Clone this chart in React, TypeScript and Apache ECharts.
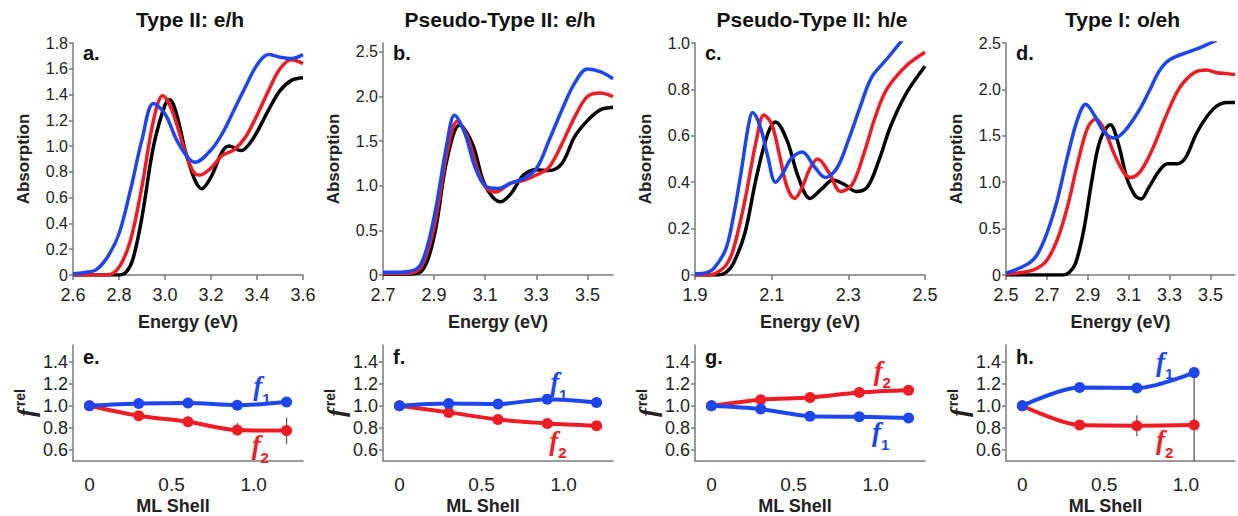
import React, { useEffect, useRef } from 'react';
import * as echarts from 'echarts';

const BLUE = '#1e46ee';
const RED = '#ee1c24';
const BLACK = '#000000';
const AXIS = '#7a7a7a';
const FONT = '"Liberation Sans", Arial, sans-serif';
const SERIF = '"Liberation Serif", "Times New Roman", serif';

const panelTitles = ['Type II: e/h', 'Pseudo-Type II: e/h', 'Pseudo-Type II: h/e', 'Type I: o/eh'];
const topLetters = ['a.', 'b.', 'c.', 'd.'];
const bottomLetters = ['e.', 'f.', 'g.', 'h.'];

// ---- Absorption spectra (energy eV, absorption) ----
const aBlack = [[2.6,0],[2.8,0],[2.83,0.02],[2.86,0.12],[2.9,0.45],[2.95,1.0],[3.0,1.32],[3.02,1.36],[3.05,1.25],[3.1,0.89],[3.16,0.67],[3.2,0.76],[3.25,0.96],[3.28,1.0],[3.33,0.965],[3.38,1.05],[3.45,1.28],[3.5,1.43],[3.55,1.51],[3.6,1.53]];
const aRed = [[2.6,0],[2.75,0],[2.8,0.06],[2.85,0.27],[2.9,0.69],[2.95,1.2],[2.99,1.39],[3.03,1.28],[3.08,1.0],[3.12,0.81],[3.15,0.775],[3.2,0.83],[3.25,0.93],[3.3,0.97],[3.35,1.07],[3.4,1.24],[3.45,1.43],[3.5,1.6],[3.55,1.67],[3.6,1.64]];
const aBlue = [[2.6,0.01],[2.65,0.02],[2.7,0.04],[2.75,0.14],[2.8,0.32],[2.85,0.66],[2.9,1.05],[2.95,1.33],[3.0,1.25],[3.05,1.05],[3.1,0.91],[3.13,0.875],[3.2,0.97],[3.25,1.1],[3.3,1.28],[3.35,1.46],[3.4,1.63],[3.45,1.71],[3.5,1.69],[3.55,1.68],[3.6,1.71]];

const bBlack = [[2.7,0.01],[2.8,0.01],[2.85,0.04],[2.9,0.43],[2.95,1.29],[3.0,1.68],[3.05,1.47],[3.1,1.0],[3.16,0.82],[3.2,0.91],[3.25,1.12],[3.3,1.18],[3.35,1.17],[3.4,1.25],[3.45,1.55],[3.5,1.73],[3.55,1.85],[3.6,1.88]];
const bRed = [[2.7,0.02],[2.8,0.02],[2.85,0.09],[2.9,0.54],[2.95,1.36],[2.99,1.72],[3.03,1.55],[3.07,1.18],[3.1,0.99],[3.14,0.93],[3.2,1.03],[3.25,1.06],[3.3,1.12],[3.35,1.21],[3.4,1.47],[3.45,1.77],[3.5,2.0],[3.55,2.04],[3.6,2.0]];
const bBlue = [[2.7,0.03],[2.8,0.04],[2.85,0.13],[2.9,0.65],[2.95,1.47],[2.98,1.79],[3.02,1.59],[3.06,1.21],[3.1,1.0],[3.15,0.97],[3.2,1.03],[3.25,1.08],[3.3,1.19],[3.35,1.51],[3.4,1.85],[3.45,2.15],[3.5,2.31],[3.55,2.28],[3.6,2.2]];

const cBlack = [[1.9,0],[1.96,0],[1.98,0.01],[2.0,0.05],[2.03,0.18],[2.06,0.42],[2.09,0.61],[2.11,0.66],[2.14,0.58],[2.17,0.42],[2.2,0.33],[2.23,0.37],[2.26,0.41],[2.29,0.39],[2.32,0.36],[2.35,0.38],[2.38,0.495],[2.41,0.64],[2.45,0.78],[2.5,0.9]];
const cRed = [[1.9,0],[1.93,0],[1.95,0.005],[1.98,0.04],[2.0,0.11],[2.03,0.32],[2.06,0.58],[2.08,0.69],[2.1,0.65],[2.12,0.52],[2.14,0.38],[2.16,0.33],[2.18,0.38],[2.2,0.46],[2.22,0.5],[2.25,0.44],[2.28,0.36],[2.31,0.39],[2.34,0.52],[2.37,0.68],[2.4,0.8],[2.45,0.9],[2.5,0.96]];
const cBlue = [[1.9,0.005],[1.93,0.01],[1.95,0.03],[1.98,0.11],[2.0,0.25],[2.02,0.44],[2.04,0.65],[2.05,0.7],[2.07,0.64],[2.09,0.51],[2.11,0.4],[2.13,0.44],[2.15,0.5],[2.18,0.53],[2.21,0.47],[2.24,0.42],[2.27,0.46],[2.3,0.58],[2.33,0.72],[2.36,0.85],[2.4,0.93],[2.45,1.03],[2.48,1.08]];

const dBlack = [[2.5,0],[2.78,0],[2.81,0.03],[2.84,0.125],[2.88,0.48],[2.92,1.02],[2.96,1.45],[3.01,1.62],[3.05,1.41],[3.09,1.05],[3.13,0.86],[3.16,0.82],[3.2,0.95],[3.25,1.125],[3.29,1.2],[3.34,1.2],[3.38,1.27],[3.43,1.52],[3.48,1.7],[3.53,1.82],[3.58,1.86],[3.62,1.86]];
const dRed = [[2.5,0.01],[2.6,0.035],[2.65,0.07],[2.7,0.16],[2.75,0.375],[2.8,0.73],[2.85,1.2],[2.9,1.59],[2.94,1.68],[2.98,1.57],[3.03,1.3],[3.08,1.09],[3.11,1.05],[3.16,1.125],[3.22,1.375],[3.28,1.7],[3.35,2.02],[3.42,2.18],[3.48,2.21],[3.53,2.18],[3.58,2.17],[3.62,2.16]];
const dBlue = [[2.5,0.02],[2.6,0.11],[2.65,0.21],[2.7,0.45],[2.75,0.8],[2.8,1.27],[2.85,1.68],[2.89,1.84],[2.93,1.73],[2.98,1.54],[3.03,1.475],[3.08,1.55],[3.15,1.77],[3.2,1.98],[3.25,2.2],[3.3,2.32],[3.4,2.41],[3.45,2.45],[3.5,2.5],[3.53,2.53]];

// ---- Relative oscillator strengths vs ML shell ----
const shellX = [0, 0.3, 0.6, 0.9, 1.2];
const shellXh = [0, 0.35, 0.7, 1.05];
const eF1 = [1.0, 1.02, 1.025, 1.005, 1.035];
const eF2 = [1.0, 0.91, 0.855, 0.78, 0.775];
const fF1 = [1.0, 1.02, 1.015, 1.06, 1.03];
const fF2 = [1.0, 0.94, 0.875, 0.84, 0.82];
const gF1 = [1.0, 0.97, 0.905, 0.9, 0.89];
const gF2 = [1.0, 1.055, 1.075, 1.12, 1.14];
const hF1 = [1.0, 1.165, 1.16, 1.3];
const hF2 = [1.0, 0.825, 0.82, 0.825];
// error bars [x, low, high]
const eErr = [[0.9, 0.73, 0.845], [1.2, 0.655, 0.895]];
const hErr = [[0.7, 0.725, 0.915], [1.05, 0.5, 1.3]];
// label anchor positions [x, y]
const labelPos = [
  { f1: [1.05, 1.15], f2: [1.04, 0.615] },
  { f1: [0.97, 1.185], f2: [0.965, 0.655] },
  { f1: [1.03, 0.735], f2: [1.04, 1.29] },
  { f1: [0.87, 1.373], f2: [0.87, 0.66] },
];

// axis ranges and tick values
const topXRange = [[2.6, 3.6], [2.7, 3.6], [1.9, 2.5], [2.5, 3.62]];
const topXTicks = [[2.6, 2.8, 3.0, 3.2, 3.4, 3.6], [2.7, 2.9, 3.1, 3.3, 3.5], [1.9, 2.1, 2.3, 2.5], [2.5, 2.7, 2.9, 3.1, 3.3, 3.5]];
const topYRange = [[0, 1.8], [0, 2.6], [0, 1.0], [0, 2.5]];
const topYTicks = [[0, 0.2, 0.4, 0.6, 0.8, 1.0, 1.2, 1.4, 1.6, 1.8], [0, 0.5, 1.0, 1.5, 2.0, 2.5], [0, 0.2, 0.4, 0.6, 0.8, 1.0], [0, 0.5, 1.0, 1.5, 2.0, 2.5]];
const botXRange = [-0.1, 1.3];
const botXTicks = [0, 0.5, 1.0];
const botYRange = [0.5, 1.55];
const botYTicks = [0.6, 0.8, 1.0, 1.2, 1.4];

// layout (pixels)
const gridLefts = [73, 383, 695, 1006];
const gridWidths = [230, 230, 230, 229];
const TOP_Y = 43, TOP_H = 232, BOT_Y = 345, BOT_H = 116;

const fmt = (v: number) => (Math.abs(v) < 1e-9 ? '0' : v.toFixed(1));

export default function App() {
  const ref = useRef<HTMLDivElement>(null);
  useEffect(() => {
    if (!ref.current) return;
    const chart = echarts.init(ref.current, undefined, { renderer: 'svg' });

    const grid: any[] = [];
    const xAxis: any[] = [];
    const yAxis: any[] = [];
    const series: any[] = [];
    const graphic: any[] = [];

    const axisLine = { show: true, onZero: false, lineStyle: { color: AXIS, width: 1.5 } };

    const topSets = [
      [aBlack, aRed, aBlue],
      [bBlack, bRed, bBlue],
      [cBlack, cRed, cBlue],
      [dBlack, dRed, dBlue],
    ];
    const botSets = [
      [eF1, eF2, shellX, eErr],
      [fF1, fF2, shellX, []],
      [gF1, gF2, shellX, []],
      [hF1, hF2, shellXh, hErr],
    ];

    for (let i = 0; i < 4; i++) {
      // ---------- top panel ----------
      grid.push({ left: gridLefts[i], top: TOP_Y, width: gridWidths[i], height: TOP_H, containLabel: false, outerBoundsMode: 'none' });
      const gt = grid.length - 1;
      xAxis.push({
        type: 'value', gridIndex: gt, min: topXRange[i][0], max: topXRange[i][1],
        axisLine, splitLine: { show: false },
        axisTick: { show: true, length: 5, customValues: topXTicks[i], lineStyle: { color: AXIS, width: 1.5 } },
        axisLabel: { customValues: topXTicks[i], formatter: fmt, fontSize: 18, color: '#222', fontFamily: FONT, margin: 11, hideOverlap: false, showMinLabel: true, showMaxLabel: true },
        name: 'Energy (eV)', nameLocation: 'middle', nameGap: 38,
        nameTextStyle: { fontSize: 18, fontWeight: 'bold', color: '#222', fontFamily: FONT },
      });
      yAxis.push({
        type: 'value', gridIndex: gt, min: topYRange[i][0], max: topYRange[i][1],
        axisLine, splitLine: { show: false },
        axisTick: { show: true, length: 4, customValues: topYTicks[i], lineStyle: { color: AXIS, width: 1.5 } },
        axisLabel: { customValues: topYTicks[i], formatter: fmt, fontSize: 16, color: '#222', fontFamily: FONT, margin: 5, showMinLabel: true, showMaxLabel: true },
        name: 'Absorption', nameLocation: 'middle', nameGap: 41,
        nameTextStyle: { fontSize: 17, fontWeight: 'bold', color: '#222', fontFamily: FONT },
      });
      const colors = [BLACK, RED, BLUE];
      topSets[i].forEach((d, k) => {
        series.push({
          type: 'line', xAxisIndex: gt, yAxisIndex: gt, data: d, showSymbol: false, smooth: 0.35,
          clip: true, lineStyle: { color: colors[k], width: 3.5 }, itemStyle: { color: colors[k] }, z: 2 + k,
        });
      });

      // ---------- bottom panel ----------
      grid.push({ left: gridLefts[i], top: BOT_Y, width: gridWidths[i], height: BOT_H, containLabel: false, outerBoundsMode: 'none' });
      const gb = grid.length - 1;
      xAxis.push({
        type: 'value', gridIndex: gb, min: botXRange[0], max: botXRange[1],
        axisLine, splitLine: { show: false },
        axisTick: { show: false },
        axisLabel: { customValues: botXTicks, formatter: fmt, fontSize: 19, color: '#222', fontFamily: FONT, margin: 14, showMinLabel: true, showMaxLabel: true },
        name: 'ML Shell', nameLocation: 'middle', nameGap: 36,
        nameTextStyle: { fontSize: 18, fontWeight: 'bold', color: '#222', fontFamily: FONT, padding: [0, 30, 0, 0] },
      });
      yAxis.push({
        type: 'value', gridIndex: gb, min: botYRange[0], max: botYRange[1],
        axisLine, splitLine: { show: false },
        axisTick: { show: true, length: 4, customValues: botYTicks, lineStyle: { color: AXIS, width: 1.5 } },
        axisLabel: { customValues: botYTicks, formatter: fmt, fontSize: 18, color: '#222', fontFamily: FONT, margin: 5, showMinLabel: true, showMaxLabel: true },
        name: '{f|f}{r|rel}', nameLocation: 'middle', nameGap: 30,
        nameTextStyle: {
          color: '#222',
          rich: {
            f: { fontSize: 26, fontStyle: 'italic', fontWeight: 'bold', fontFamily: SERIF, color: '#222' },
            r: { fontSize: 14, fontWeight: 'bold', fontFamily: FONT, color: '#222', verticalAlign: 'top', padding: [0, 0, 10, 2] },
          },
        },
      });
      const [f1, f2, xs, errs] = botSets[i] as any;
      const mk = (ys: number[]) => xs.map((x: number, j: number) => [x, ys[j]]);
      series.push({
        type: 'custom', xAxisIndex: gb, yAxisIndex: gb, data: errs, z: 1,
        encode: { x: 0, y: [1, 2] },
        renderItem: (_p: any, api: any) => {
          const p1 = api.coord([api.value(0), api.value(1)]);
          const p2 = api.coord([api.value(0), api.value(2)]);
          return { type: 'line', shape: { x1: p1[0], y1: p1[1], x2: p2[0], y2: p2[1] }, style: { stroke: '#555', lineWidth: 1.2 } };
        },
      });
      series.push({
        type: 'line', xAxisIndex: gb, yAxisIndex: gb, data: mk(f2), symbol: 'circle', symbolSize: 11, smooth: 0.3,
        lineStyle: { color: RED, width: 4 }, itemStyle: { color: RED }, z: 3,
      });
      series.push({
        type: 'line', xAxisIndex: gb, yAxisIndex: gb, data: mk(f1), symbol: 'circle', symbolSize: 11, smooth: 0.3,
        lineStyle: { color: BLUE, width: 4 }, itemStyle: { color: BLUE }, z: 4,
      });
      const lp = labelPos[i];
      const mkLabel = (pos: number[], sub: string, color: string) => ({
        type: 'scatter', xAxisIndex: gb, yAxisIndex: gb, data: [pos], symbol: 'circle', symbolSize: 0,
        itemStyle: { color: 'rgba(0,0,0,0)' }, z: 6, silent: true,
        label: {
          show: true, position: 'inside', formatter: `{f|f}{s|${sub}}`, opacity: 1,
          rich: {
            f: { fontSize: 27, fontStyle: 'italic', fontWeight: 'bold', fontFamily: SERIF, color, verticalAlign: 'top' },
            s: { fontSize: 15, fontWeight: 'bold', fontFamily: FONT, color, verticalAlign: 'bottom', padding: [18, 0, 0, 0] },
          },
        },
      });
      series.push(mkLabel(lp.f1, '1', BLUE));
      series.push(mkLabel(lp.f2, '2', RED));

      // titles and panel letters
      graphic.push({
        type: 'text', x: gridLefts[i] + gridWidths[i] / 2 + 2, y: 19,
        style: { text: panelTitles[i], font: `bold 21px ${FONT}`, fill: '#111', align: 'center', verticalAlign: 'middle' },
      });
      graphic.push({
        type: 'text', x: gridLefts[i] + 10, y: 53,
        style: { text: topLetters[i], font: `bold 20px ${FONT}`, fill: '#111', align: 'left', verticalAlign: 'middle' },
      });
      graphic.push({
        type: 'text', x: gridLefts[i] + 10, y: 357,
        style: { text: bottomLetters[i], font: `bold 20px ${FONT}`, fill: '#111', align: 'left', verticalAlign: 'middle' },
      });
    }

    chart.setOption({
      animation: false,
      backgroundColor: '#ffffff',
      grid, xAxis, yAxis, series, graphic,
    });
    return () => chart.dispose();
  }, []);

  return <div ref={ref} style={{ position: 'fixed', left: 0, top: 0, width: 1238, height: 516, background: '#fff' }} />;
}
